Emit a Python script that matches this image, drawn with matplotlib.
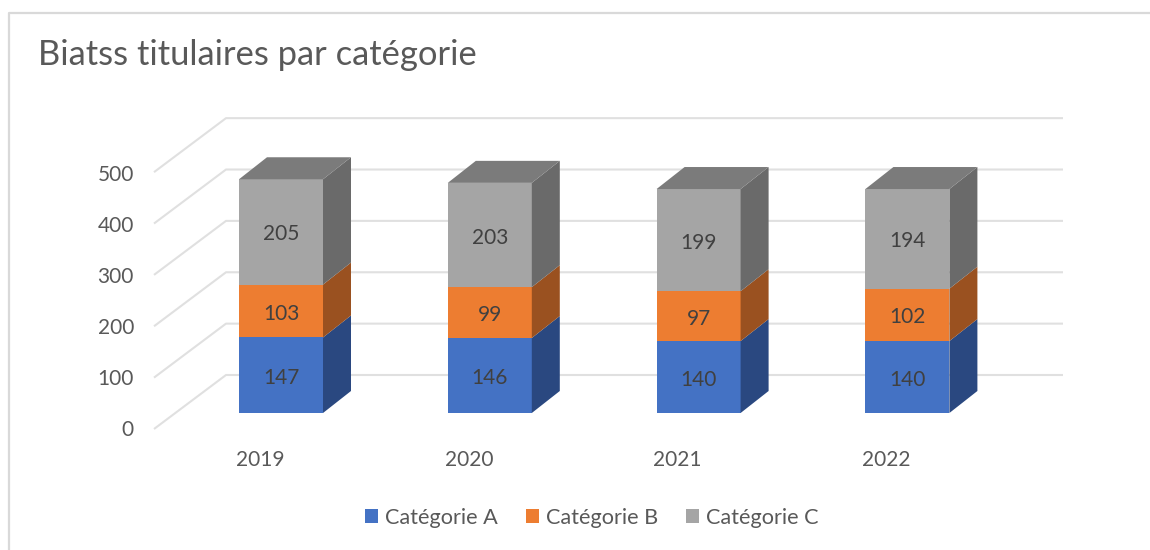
import matplotlib
matplotlib.use('Agg')
import matplotlib.pyplot as plt
from matplotlib.patches import Polygon
import numpy as np

plt.rcParams['font.family'] = ['Lato', 'DejaVu Sans']

years = ['2019', '2020', '2021', '2022']
cat_a = [147, 146, 140, 140]
cat_b = [103, 99, 97, 102]
cat_c = [205, 203, 199, 194]
names = ['Catégorie A', 'Catégorie B', 'Catégorie C']
y_ticks = [0, 100, 200, 300, 400, 500]

front = ['#4472C4', '#ED7D31', '#A5A5A5']
side = ['#2A4880', '#9A5120', '#6A6A6A']
top_col = '#7B7B7B'
grid_col = '#E0E0E0'
txt = '#595959'
lab = '#404040'

# echelles : pixels de l'image -> donnees
W, H = 1150, 550
x0, dx = 281.0, 208.8
y0, sy = 413.0, 0.5137


def px(x):
    return (x - x0) / dx


def py(y):
    return (y0 - y) / sy


fig = plt.figure(figsize=(W / 100, H / 100), dpi=100)
ax = fig.add_axes([0, 0, 1, 1])
ax.set_xlim(px(0), px(W))
ax.set_ylim(py(H), py(0))
ax.axis('off')

# cadre
ax.plot([px(9), px(9), px(W)], [py(H), py(13), py(13)], color='#D9D9D9', lw=1.6, zorder=1)

ax.text(px(38), py(55), 'Biatss titulaires par catégorie', fontsize=24.8, color=txt, va='center', ha='left')

# murs : lignes de grille en perspective
back_dx = 72 / dx
back_dy = 54 / sy
floor = py(429)
for t in y_ticks:
    v = floor + t
    ax.plot([px(154), px(154) + back_dx, px(1063)], [v, v + back_dy, v + back_dy],
            color=grid_col, lw=1.5, zorder=1, solid_capstyle='butt')
    ax.text(px(134), py(430.5) + t * 0.995, str(t), fontsize=15, color=txt, ha='right', va='center')

# barres
bw = 84 / dx
depth_x = 28 / dx
depth_y = 22 / sy
xs = np.arange(len(years))
series = [cat_a, cat_b, cat_c]
bottom = np.zeros(len(years))
for k, vals in enumerate(series):
    vals = np.array(vals)
    ax.bar(xs, vals, bw, bottom=bottom, color=front[k], zorder=3, label=names[k], lw=0)
    for i in xs:
        r = i + bw / 2
        b, t = bottom[i], bottom[i] + vals[i]
        ax.add_patch(Polygon([(r, b), (r + depth_x, b + depth_y), (r + depth_x, t + depth_y), (r, t)],
                             closed=True, fc=side[k], ec='none', zorder=3))
        ax.text(i, b + vals[i] / 2 - 5, str(vals[i]), fontsize=15, color=lab, ha='center', va='center', zorder=4)
    bottom = bottom + vals

for i in xs:
    l = i - bw / 2
    r = i + bw / 2
    t = bottom[i]
    ax.add_patch(Polygon([(l, t), (l + depth_x, t + depth_y), (r + depth_x, t + depth_y), (r, t)],
                         closed=True, fc=top_col, ec='none', zorder=3))
    ax.text(i - 21 / dx, py(460), years[i], fontsize=15, color=txt, ha='center', va='center')

ax.legend(loc='center', bbox_to_anchor=(592 / W, 1 - 518 / H), bbox_transform=fig.transFigure, ncol=3,
          frameon=False, fontsize=15.6, labelcolor=txt, handlelength=0.6, handleheight=0.6,
          handletextpad=0.32, columnspacing=1.3)

fig.savefig('out.png', dpi=100)
plt.close()
